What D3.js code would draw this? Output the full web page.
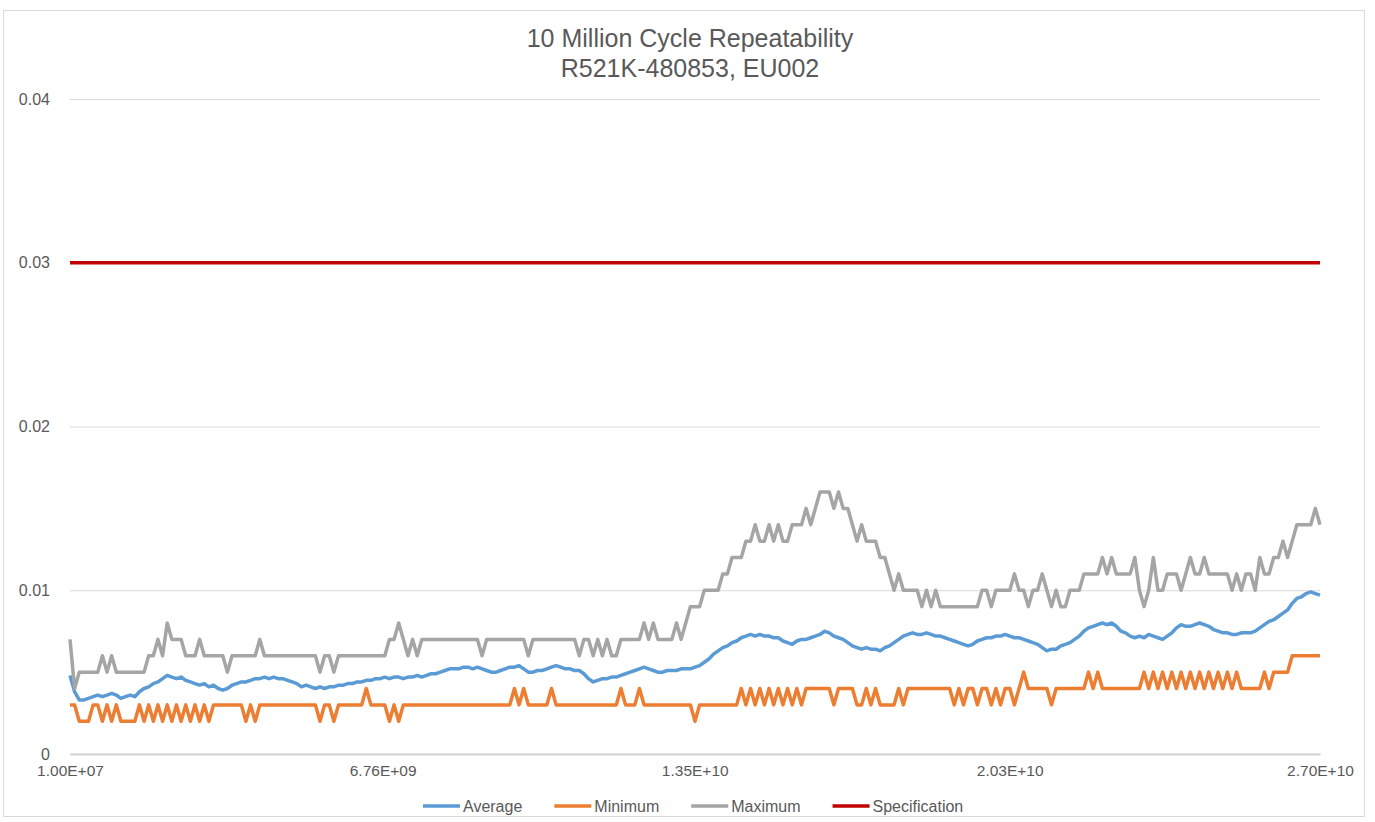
<!DOCTYPE html>
<html>
<head>
<meta charset="utf-8">
<script src="https://cdn.jsdelivr.net/npm/d3@7"></script>
<style>
  body { margin: 0; background: #fff; }
  svg { display: block; font-family: "Liberation Sans", Arial, sans-serif; }
</style>
</head>
<body>
<svg id="chart" width="1375" height="822"></svg>
<script>
// one reading every ~1e8 cycles, 1.00E+07 .. 2.70E+10 (271 samples)
var firstCycle = 1e7, lastCycle = 2.7e10;

// Average, in units of 0.0001
var avgTenThou = [
  48,38,33,33,34,35,36,35,36,37,
  36,34,35,36,35,38,40,41,43,44,
  46,48,47,46,47,45,44,43,42,43,
  41,42,40,39,40,42,43,44,44,45,
  46,46,47,46,47,46,46,45,44,43,
  41,42,41,40,41,40,41,41,42,42,
  43,43,44,44,45,45,46,46,47,46,
  47,47,46,47,47,48,47,48,49,49,
  50,51,52,52,52,53,53,52,53,52,
  51,50,50,51,52,53,53,54,52,50,
  50,51,51,52,53,54,53,52,52,51,
  51,49,46,44,45,46,46,47,47,48,
  49,50,51,52,53,52,51,50,50,51,
  51,51,52,52,52,53,54,56,58,61,
  63,65,66,68,69,71,72,73,72,73,
  72,72,71,71,69,68,67,69,70,70,
  71,72,73,75,74,72,71,70,68,66,
  65,64,65,64,64,63,65,66,68,70,
  72,73,74,73,73,74,73,72,72,71,
  70,69,68,67,66,67,69,70,71,71,
  72,72,73,72,71,71,70,69,68,67,
  65,63,64,64,66,67,68,70,72,75,
  77,78,79,80,79,80,78,75,74,72,
  71,72,71,73,72,71,70,72,74,77,
  79,78,78,79,80,79,78,76,75,74,
  74,73,73,74,74,74,75,77,79,81,
  82,84,86,88,92,95,96,98,99,98,
  97
];

// Minimum, in units of 0.001
var minThou = [
  3,3,2,2,2,3,3,2,3,2,
  3,2,2,2,2,3,2,3,2,3,
  2,3,2,3,2,3,2,3,2,3,
  2,3,3,3,3,3,3,3,2,3,
  2,3,3,3,3,3,3,3,3,3,
  3,3,3,3,2,3,3,2,3,3,
  3,3,3,3,4,3,3,3,3,2,
  3,2,3,3,3,3,3,3,3,3,
  3,3,3,3,3,3,3,3,3,3,
  3,3,3,3,3,3,4,3,4,3,
  3,3,3,3,4,3,3,3,3,3,
  3,3,3,3,3,3,3,3,3,4,
  3,3,3,4,3,3,3,3,3,3,
  3,3,3,3,3,2,3,3,3,3,
  3,3,3,3,3,4,3,4,3,4,
  3,4,3,4,3,4,3,4,3,4,
  4,4,4,4,4,3,4,4,4,4,
  3,3,4,3,4,3,3,3,3,4,
  3,4,4,4,4,4,4,4,4,4,
  4,3,4,3,4,4,3,4,4,3,
  4,3,4,4,3,4,5,4,4,4,
  4,4,3,4,4,4,4,4,4,4,
  5,4,5,4,4,4,4,4,4,4,
  4,4,5,4,5,4,5,4,5,4,
  5,4,5,4,5,4,5,4,5,4,
  5,4,5,4,4,4,4,4,5,4,
  5,5,5,5,6,6,6,6,6,6,
  6
];

// Maximum, in units of 0.001
var maxThou = [
  7,4,5,5,5,5,5,6,5,6,
  5,5,5,5,5,5,5,6,6,7,
  6,8,7,7,7,6,6,6,7,6,
  6,6,6,6,5,6,6,6,6,6,
  6,7,6,6,6,6,6,6,6,6,
  6,6,6,6,5,6,6,5,6,6,
  6,6,6,6,6,6,6,6,6,7,
  7,8,7,6,7,6,7,7,7,7,
  7,7,7,7,7,7,7,7,7,6,
  7,7,7,7,7,7,7,7,7,6,
  7,7,7,7,7,7,7,7,7,7,
  6,7,7,6,7,6,7,6,6,7,
  7,7,7,7,8,7,8,7,7,7,
  7,8,7,8,9,9,9,10,10,10,
  10,11,11,12,12,12,13,13,14,13,
  13,14,13,14,13,13,14,14,14,15,
  14,15,16,16,16,15,16,15,15,14,
  13,14,13,13,13,12,12,11,10,11,
  10,10,10,10,9,10,9,10,9,9,
  9,9,9,9,9,9,9,10,10,9,
  10,10,10,10,11,10,10,9,10,10,
  11,10,9,10,9,9,10,10,10,11,
  11,11,11,12,11,12,11,11,11,11,
  12,10,9,10,12,10,10,11,11,11,
  10,11,12,11,11,12,11,11,11,11,
  11,10,11,10,11,11,10,12,11,11,
  12,12,13,12,13,14,14,14,14,15,
  14
];

var specLimit = 0.03;

var yTicks = [0, 0.01, 0.02, 0.03, 0.04];
var xTicks = [1e7, 6.76e9, 1.35e10, 2.03e10, 2.7e10];
var xTickLabels = ["1.00E+07", "6.76E+09", "1.35E+10", "2.03E+10", "2.70E+10"];

var seriesNames = ["Average", "Minimum", "Maximum", "Specification"];
var seriesColors = ["#5b9bd5", "#ed7d31", "#a5a5a5", "#c00000"];

var svg = d3.select("#chart");
var plotLeft = 70, plotRight = 1320, plotTop = 99, plotBottom = 754;

var step = (lastCycle - firstCycle) / (avgTenThou.length - 1);
function toPoints(vals, unit) {
  return vals.map(function(v, i) { return { c: firstCycle + i * step, v: v * unit }; });
}
var series = [
  toPoints(avgTenThou, 1e-4),
  toPoints(minThou, 1e-3),
  toPoints(maxThou, 1e-3),
  [{ c: firstCycle, v: specLimit }, { c: lastCycle, v: specLimit }]
];

var x = d3.scaleLinear().domain([firstCycle, lastCycle]).range([plotLeft, plotRight]);
var y = d3.scaleLinear().domain([0, 0.04]).range([plotBottom, plotTop]);

// outer chart border
svg.append("rect")
  .attr("x", 3.5).attr("y", 10.5)
  .attr("width", 1361).attr("height", 806)
  .attr("fill", "none").attr("stroke", "#d9d9d9");

// title
var title = svg.append("text")
  .attr("text-anchor", "middle")
  .attr("fill", "#595959")
  .style("font-size", "25px");
title.append("tspan").attr("x", 690).attr("y", 47).text("10 Million Cycle Repeatability");
title.append("tspan").attr("x", 690).attr("y", 77).text("R521K-480853, EU002");

// gridlines + y labels
var yAxis = svg.append("g")
  .attr("transform", "translate(" + plotLeft + ",0)")
  .call(d3.axisLeft(y).tickValues(yTicks).tickSize(-(plotRight - plotLeft)).tickPadding(20)
    .tickFormat(function(d) { return d === 0 ? "0" : d3.format(".2f")(d); }));
yAxis.select(".domain").remove();
yAxis.selectAll(".tick line").attr("stroke", "#d9d9d9").attr("stroke-width", 1);
yAxis.selectAll(".tick text").attr("fill", "#595959").style("font-size", "16px");

// x axis
var xAxis = svg.append("g")
  .attr("transform", "translate(0," + plotBottom + ")")
  .call(d3.axisBottom(x).tickValues(xTicks).tickSize(0).tickPadding(11)
    .tickFormat(function(d, i) { return xTickLabels[i]; }));
xAxis.select(".domain").attr("stroke", "#d0d0d0").attr("stroke-width", 2);
xAxis.selectAll(".tick text").attr("fill", "#595959").style("font-size", "15.5px");

// series lines
var line = d3.line()
  .x(function(d) { return x(d.c); })
  .y(function(d) { return y(d.v); });

svg.append("g").selectAll("path.series")
  .data(series)
  .enter().append("path")
  .attr("class", "series")
  .attr("d", line)
  .attr("fill", "none")
  .attr("stroke", function(d, i) { return seriesColors[i]; })
  .attr("stroke-width", 3.5)
  .attr("stroke-linejoin", "round");

// legend
var legend = svg.append("g").attr("transform", "translate(0,806)");
var lx = 423;
seriesNames.forEach(function(name, i) {
  legend.append("line")
    .attr("x1", lx).attr("x2", lx + 37)
    .attr("stroke", seriesColors[i]).attr("stroke-width", 3.5);
  var t = legend.append("text")
    .attr("x", lx + 40).attr("dy", "0.35em")
    .attr("fill", "#595959")
    .style("font-size", "16px")
    .text(name);
  lx += 40 + t.node().getComputedTextLength() + 32;
});
</script>
</body>
</html>
